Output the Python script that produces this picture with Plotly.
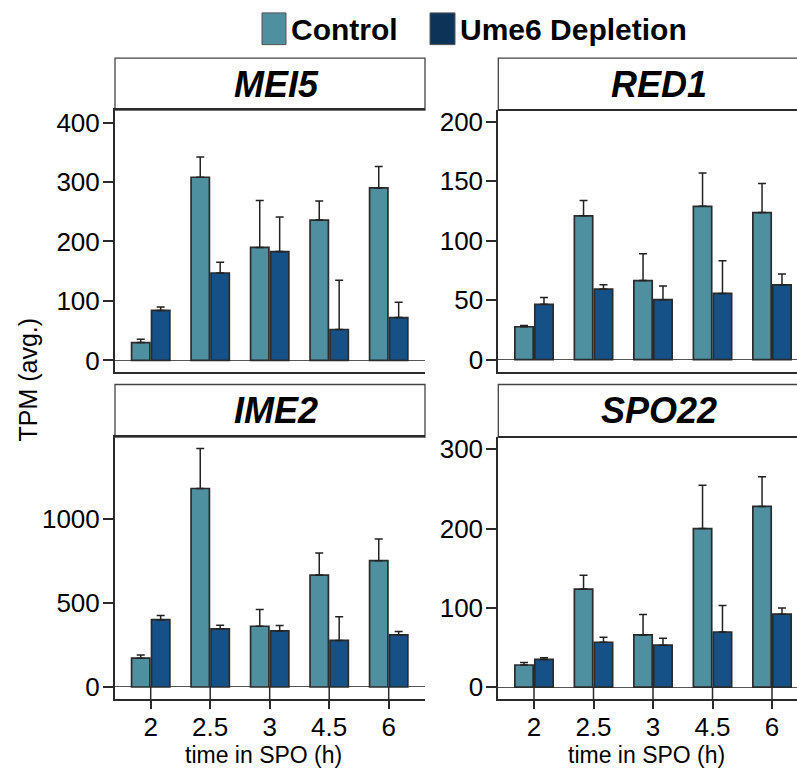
import plotly.graph_objects as go

W, H = 797, 769

times = ["2", "2.5", "3", "4.5", "6"]
series_names = ["Control", "Ume6 Depletion"]
genes = ["MEI5", "RED1", "IME2", "SPO22"]

mei5_ctrl = [30, 308, 190, 236, 290]
mei5_ctrl_err = [5.6, 34, 79, 32, 36]
mei5_dep = [84, 147, 183, 52, 72]
mei5_dep_err = [6, 18, 58, 83, 26]

red1_ctrl = [27.7, 120.8, 66.5, 128.8, 123.6]
red1_ctrl_err = [1, 13, 22.4, 28, 24.3]
red1_dep = [46.5, 59.3, 50.4, 55.7, 62.9]
red1_dep_err = [5.8, 3.6, 11.6, 27.4, 9.1]

ime2_ctrl = [171, 1180, 361, 665, 751]
ime2_ctrl_err = [19.6, 237, 100, 131, 129]
ime2_dep = [400, 345, 333, 277, 310]
ime2_dep_err = [25.5, 21.6, 33, 141, 19.6]

spo22_ctrl = [28, 123.8, 65.9, 200, 228]
spo22_ctrl_err = [3.3, 17.5, 25.8, 54.6, 37.5]
spo22_dep = [35, 56.7, 53, 69.6, 92.1]
spo22_dep_err = [2, 6.3, 8.7, 33.4, 7.9]

y_ticks = {
    "MEI5": [0, 100, 200, 300, 400],
    "RED1": [0, 50, 100, 150, 200],
    "IME2": [0, 500, 1000],
    "SPO22": [0, 100, 200, 300],
}
y_ranges = {
    "MEI5": [-18.8, 421],
    "RED1": [-10, 209.7],
    "IME2": [-72, 1486],
    "SPO22": [-15, 315.5],
}

data = {
    "MEI5": (mei5_ctrl, mei5_ctrl_err, mei5_dep, mei5_dep_err),
    "RED1": (red1_ctrl, red1_ctrl_err, red1_dep, red1_dep_err),
    "IME2": (ime2_ctrl, ime2_ctrl_err, ime2_dep, ime2_dep_err),
    "SPO22": (spo22_ctrl, spo22_ctrl_err, spo22_dep, spo22_dep_err),
}

CTRL = "#4E8FA0"
DEP = "#155087"
DEP_LEG = "#0E3358"
LINE = "#2b2b2b"
FONT = "Liberation Sans, Arial, sans-serif"


def px_x(p):
    return p / W


def px_y(p):
    return 1 - p / H


# panel geometry in pixels
left_x = (115, 425)
right_x = (498.3, 797)
top_y = (108, 372)
bot_y = (438, 702.5)
strip_top = {"top": 55.7, "bot": 385}

panels = [
    ("MEI5", left_x, top_y, "top", False, [-0.6, 4.61]),
    ("RED1", right_x, top_y, "top", False, [-0.6, 4.42]),
    ("IME2", left_x, bot_y, "bot", True, [-0.6, 4.61]),
    ("SPO22", right_x, bot_y, "bot", True, [-0.6, 4.42]),
]

fig = go.Figure()
layout = dict(
    width=W, height=H,
    margin=dict(l=0, r=0, t=0, b=0),
    paper_bgcolor="white", plot_bgcolor="white",
    showlegend=False,
    barmode="group", bargap=0.33, bargroupgap=0.08,
    font=dict(family=FONT, color="black"),
)
shapes = []
annotations = []

for i, (gene, xr, yr, row, show_x, xrange) in enumerate(panels):
    n = "" if i == 0 else str(i + 1)
    xa, ya = "x" + n, "y" + n
    c, ce, d, de = data[gene]
    is_right = xr[1] >= W
    for vals, errs, col, name in [(c, ce, CTRL, series_names[0]), (d, de, DEP, series_names[1])]:
        fig.add_trace(go.Bar(
            x=times, y=vals, name=name, xaxis=xa, yaxis=ya,
            marker=dict(color=col, line=dict(color=LINE, width=1.7)),
            error_y=dict(type="data", array=errs, arrayminus=[0] * len(errs), symmetric=False,
                         color="#222222", thickness=1.5, width=4),
        ))
    layout["xaxis" + n] = dict(
        domain=[px_x(xr[0]), min(1.0, px_x(xr[1]))], anchor=ya,
        type="category", range=xrange,
        showline=True, linecolor=LINE, linewidth=2,
        mirror=True if not is_right else False,
        showgrid=False, zeroline=False,
        ticks="outside" if show_x else "", ticklen=8, tickwidth=1.5, tickcolor=LINE,
        showticklabels=show_x, tickfont=dict(size=26, family=FONT, color="black"),
        ticklabelstandoff=-4,
    )
    layout["yaxis" + n] = dict(
        domain=[px_y(yr[1]), px_y(yr[0])], anchor=xa,
        range=y_ranges[gene], tickvals=y_ticks[gene],
        showline=True, linecolor=LINE, linewidth=2, mirror=False,
        showgrid=False, zeroline=True, zerolinecolor="#555555", zerolinewidth=1.2,
        ticks="outside", ticklen=10, tickwidth=1.5, tickcolor=LINE,
        tickfont=dict(size=26, family=FONT, color="black"),
        ticklabelstandoff=-2,
    )
    if is_right:
        shapes.append(dict(type="line", xref="paper", yref="paper",
                           x0=px_x(xr[0]), x1=1.01, y0=px_y(yr[0]), y1=px_y(yr[0]),
                           line=dict(color=LINE, width=2)))
    # strip header
    st = strip_top[row]
    shapes.append(dict(type="rect", xref="paper", yref="paper",
                       x0=px_x(xr[0]), x1=px_x(xr[1]) + (0.02 if is_right else 0),
                       y0=px_y(yr[0]), y1=px_y(st),
                       fillcolor="white", line=dict(color="#444444", width=1.3), layer="below"))
    annotations.append(dict(
        text="<b><i>%s</i></b>" % gene, xref="paper", yref="paper",
        x=px_x((xr[0] + xr[0] + 310) / 2 + 6), y=px_y((st + yr[0]) / 2),
        xanchor="center", yanchor="middle", showarrow=False,
        font=dict(size=36, family=FONT, color="black"),
    ))
    if show_x:
        yfrac = (0 - y_ranges[gene][0]) / (y_ranges[gene][1] - y_ranges[gene][0])
        for k in range(len(times)):
            shapes.append(dict(type="line", xref=xa, yref=ya + " domain",
                               x0=k, x1=k, y0=0, y1=yfrac,
                               line=dict(color=LINE, width=1.5)))
        annotations.append(dict(
            text="time in SPO (h)", xref="paper", yref="paper",
            x=px_x((xr[0] + xr[0] + 310) / 2 - 7), y=px_y(759),
            xanchor="center", yanchor="middle", showarrow=False,
            font=dict(size=23, family=FONT, color="black"),
        ))

# y axis title
annotations.append(dict(
    text="TPM (avg.)", xref="paper", yref="paper", x=px_x(28), y=px_y(380),
    xanchor="center", yanchor="middle", textangle=-90, showarrow=False,
    font=dict(size=25, family=FONT, color="black"),
))

# legend (custom, large swatches)
legend_items = [(series_names[0], CTRL, 262, 286), (series_names[1], DEP_LEG, 430, 455)]
for name, col, x0, x1 in legend_items:
    shapes.append(dict(type="rect", xref="paper", yref="paper",
                       x0=px_x(x0), x1=px_x(x1), y0=px_y(42), y1=px_y(10),
                       fillcolor=col, line=dict(color="#555555", width=1)))
    annotations.append(dict(
        text="<b>%s</b>" % name, xref="paper", yref="paper",
        x=px_x(x1 + 3), y=px_y(27), xanchor="left", yanchor="middle", showarrow=False,
        font=dict(size=30, family=FONT, color="black"),
    ))

layout["shapes"] = shapes
layout["annotations"] = annotations
fig.update_layout(**layout)
fig.write_html("out.html")
